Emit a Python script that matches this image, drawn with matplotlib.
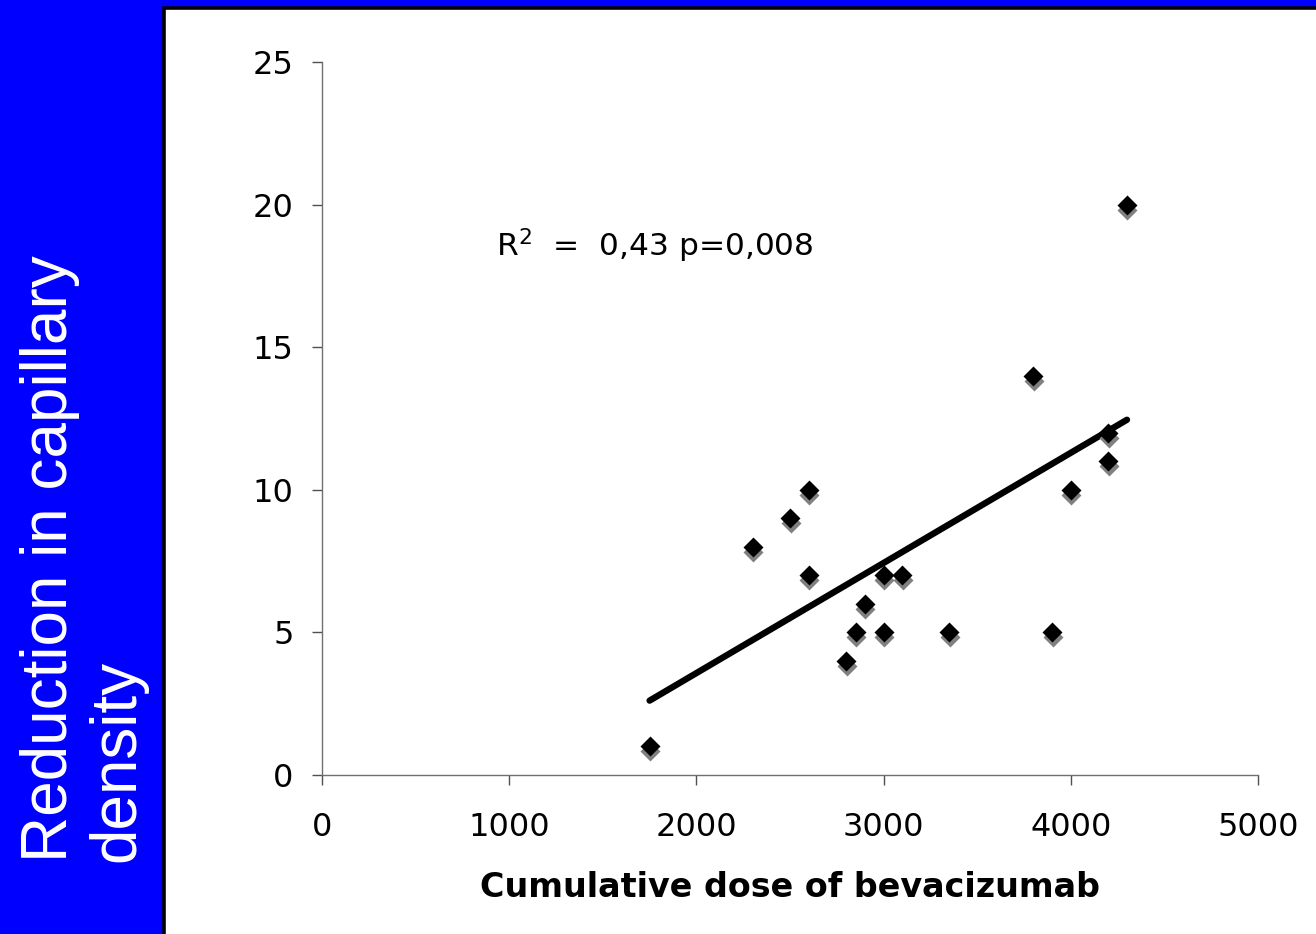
import numpy as np
import matplotlib
matplotlib.use("Agg")
import matplotlib.pyplot as plt
from matplotlib.patches import Rectangle
from matplotlib.transforms import offset_copy

# datos
dose = [1750, 2300, 2500, 2600, 2600, 2800, 2850, 2900, 3000, 3000,
        3100, 3350, 3800, 3900, 4000, 4200, 4200, 4300]
reduction = [1, 8, 9, 10, 7, 4, 5, 6, 7, 5,
             7, 5, 14, 5, 10, 12, 11, 20]
x_ticks = [0, 1000, 2000, 3000, 4000, 5000]
y_ticks = [0, 5, 10, 15, 20, 25]
stats_text = "R$^2$  =  0,43 p=0,008"
x_label = "Cumulative dose of bevacizumab"
y_label = "Reduction in capillary\ndensity"

W, H = 1316, 934
fig = plt.figure(figsize=(W / 100, H / 100), dpi=100, facecolor="#0000FF")

# panel blanco con borde negro
panel = Rectangle((163.7 / W, 0 - 0.05), 1.0, 1 - 7.7 / H + 0.05,
                  transform=fig.transFigure, facecolor="white",
                  edgecolor="black", linewidth=2.6, zorder=0)
fig.add_artist(panel)

ax = fig.add_axes([322 / W, 1 - 775 / H, (1258 - 322) / W, (775 - 62) / H])
ax.set_facecolor("none")

# recta de regresion
slope, intercept = np.polyfit(dose, reduction, 1)
xs = np.array([min(dose), max(dose)])
ax.plot(xs, slope * xs + intercept, color="black", lw=4.6,
        solid_capstyle="round", zorder=2)

# sombra de los puntos
shadow = offset_copy(ax.transData, fig=fig, x=0.5, y=-5, units="dots")
ax.plot(dose, reduction, "D", ms=10.5, color="#808080", mec="none",
        transform=shadow, zorder=3, clip_on=False)
ax.plot(dose, reduction, "D", ms=10.5, color="black", mec="none",
        zorder=4, clip_on=False)

ax.text(932, 18.2, stats_text, fontsize=22.5, va="baseline", ha="left",
        family="DejaVu Sans")

ax.set_xlim(0, 5000)
ax.set_ylim(0, 25)
ax.set_xticks(x_ticks)
ax.set_yticks(y_ticks)
for s in ["top", "right"]:
    ax.spines[s].set_visible(False)
for s in ["left", "bottom"]:
    ax.spines[s].set_color("#707070")
    ax.spines[s].set_linewidth(1)
ax.tick_params(axis="both", direction="out", length=7.5, width=1,
               color="#505050", labelsize=23)
ax.tick_params(axis="x", pad=19)
ax.tick_params(axis="y", pad=13)

ax.set_xlabel(x_label, fontsize=24, fontweight="bold", labelpad=20)

fig.text(84 / W, 1 - 862 / H, y_label, rotation=90, ha="center",
         va="bottom", multialignment="left", color="white", fontsize=46,
         family="Liberation Sans", linespacing=1.15)

fig.savefig("out.png", dpi=100, facecolor=fig.get_facecolor())
